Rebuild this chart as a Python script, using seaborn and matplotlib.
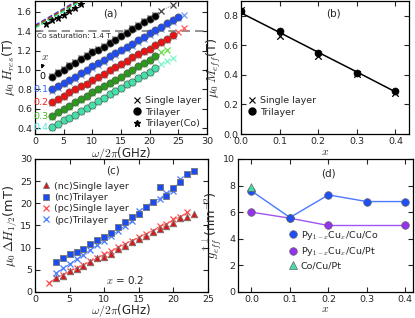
import numpy as np
import pandas as pd
import matplotlib
matplotlib.use("Agg")
import matplotlib.pyplot as plt
import seaborn as sns
from matplotlib.lines import Line2D

# ---------------- data: panel (a) ----------------
f_tri_0 = list(range(3, 22))
h_tri_0 = [0.93, 0.97, 1.00, 1.04, 1.07, 1.11, 1.14, 1.18, 1.21, 1.24, 1.28, 1.31, 1.35, 1.38, 1.42, 1.45, 1.49, 1.52, 1.56]
f_tri_1 = list(range(3, 26))
h_tri_1 = [0.80, 0.83, 0.87, 0.90, 0.93, 0.97, 1.00, 1.04, 1.07, 1.10, 1.14, 1.17, 1.21, 1.24, 1.27, 1.31, 1.34, 1.38, 1.41, 1.44, 1.48, 1.51, 1.55]
f_tri_2 = list(range(3, 25))
h_tri_2 = [0.67, 0.70, 0.73, 0.77, 0.80, 0.83, 0.86, 0.90, 0.93, 0.96, 1.00, 1.03, 1.06, 1.09, 1.13, 1.16, 1.19, 1.22, 1.26, 1.29, 1.32, 1.36]
f_tri_3 = list(range(3, 22))
h_tri_3 = [0.53, 0.57, 0.60, 0.63, 0.67, 0.70, 0.73, 0.77, 0.80, 0.83, 0.87, 0.90, 0.93, 0.97, 1.00, 1.04, 1.07, 1.10, 1.14]
f_tri_4 = list(range(3, 22))
h_tri_4 = [0.41, 0.44, 0.48, 0.51, 0.54, 0.58, 0.61, 0.64, 0.68, 0.71, 0.75, 0.78, 0.81, 0.85, 0.88, 0.92, 0.95, 0.98, 1.02]

f_sl_0 = list(range(3, 23)) + [24]
h_sl_0 = [0.94, 0.98, 1.01, 1.05, 1.08, 1.12, 1.15, 1.19, 1.22, 1.25, 1.29, 1.32, 1.36, 1.39, 1.43, 1.46, 1.50, 1.53, 1.57, 1.61, 1.67]
f_sl_1 = list(range(3, 27))
h_sl_1 = [0.78, 0.81, 0.85, 0.88, 0.91, 0.95, 0.98, 1.02, 1.05, 1.08, 1.12, 1.15, 1.19, 1.22, 1.25, 1.29, 1.32, 1.36, 1.39, 1.42, 1.46, 1.49, 1.53, 1.57]
f_sl_2 = list(range(3, 27))
h_sl_2 = [0.66, 0.69, 0.72, 0.76, 0.79, 0.82, 0.85, 0.89, 0.92, 0.95, 0.99, 1.02, 1.05, 1.08, 1.12, 1.15, 1.18, 1.21, 1.25, 1.28, 1.31, 1.35, 1.39, 1.43]
f_sl_3 = list(range(3, 24))
h_sl_3 = [0.52, 0.56, 0.59, 0.62, 0.66, 0.69, 0.72, 0.76, 0.79, 0.82, 0.86, 0.89, 0.92, 0.96, 0.99, 1.03, 1.06, 1.09, 1.13, 1.18, 1.21]
f_sl_4 = list(range(3, 25))
h_sl_4 = [0.40, 0.43, 0.47, 0.50, 0.53, 0.57, 0.60, 0.63, 0.67, 0.70, 0.74, 0.77, 0.80, 0.84, 0.87, 0.91, 0.94, 0.97, 1.01, 1.06, 1.09, 1.12]

f_co = [2, 3, 4, 5, 6, 7, 8]
h_co = [1.47, 1.51, 1.54, 1.57, 1.61, 1.64, 1.68]
f_co_fit = [0, 9]
h_co_fit_1 = [1.46, 1.77]
h_co_fit_2 = [1.45, 1.76]
h_co_fit_3 = [1.44, 1.75]
h_co_fit_4 = [1.43, 1.74]

x_labels_a = ["0", "0.1", "0.2", "0.3", "0.4"]

# ---------------- data: panel (b) ----------------
x_b = [0.0, 0.1, 0.2, 0.3, 0.4]
m_single = [0.84, 0.66, 0.53, 0.405, 0.28]
m_tri = [0.83, 0.70, 0.545, 0.415, 0.29]
m_fit = [0.82, 0.687, 0.553, 0.42, 0.285]

# ---------------- data: panel (c) ----------------
f_nc = list(range(3, 24))
dh_nc_single = [3.1, 3.7, 4.7, 5.1, 5.9, 6.8, 7.7, 8.0, 8.6, 9.8, 10.4, 11.3, 11.9, 12.7, 13.5, 14.3, 14.8, 15.5, 16.8, 16.9, 17.5]
dh_nc_tri = [6.8, 7.6, 8.6, 9.1, 9.7, 10.8, 11.8, 12.3, 13.4, 14.6, 15.7, 16.9, 17.5, 19.2, 20.3, 23.7, 21.7, 23.4, 24.7, 26.6, 27.4]
f_pc_single = list(range(2, 23))
dh_pc_single = [2.1, 3.1, 3.9, 4.7, 5.4, 6.1, 6.9, 7.7, 8.5, 9.2, 10.1, 10.8, 11.6, 12.3, 13.1, 13.8, 14.8, 15.3, 16.4, 16.9, 18.0]
f_pc_tri = list(range(3, 22))
dh_pc_tri = [4.2, 5.3, 6.3, 7.4, 8.4, 9.5, 10.6, 11.6, 12.7, 13.8, 14.9, 16.0, 18.3, 19.2, 20.4, 21.0, 22.4, 22.7, 25.5]

# ---------------- data: panel (d) ----------------
x_co = [0.0, 0.1, 0.2, 0.3, 0.4]
g_co = [7.6, 5.6, 7.3, 6.8, 6.8]
x_pt = [0.0, 0.1, 0.2, 0.4]
g_pt = [6.0, 5.55, 5.0, 5.0]
x_copt = [0.0]
g_copt = [7.9]

# ---------------- style ----------------
sns.set_style("ticks", {"xtick.direction": "in", "ytick.direction": "in"})
plt.rcParams["font.family"] = ["DejaVu Sans"]
plt.rcParams["mathtext.fontset"] = "cm"
FS = 6.8
XLFS = 8.5
YLFS = 9.3

fig = plt.figure(figsize=(4.15, 3.18), dpi=100)
ax_a = fig.add_axes([0.0843, 0.5786, 0.4145, 0.4182])
ax_b = fig.add_axes([0.5807, 0.5786, 0.4048, 0.4182])
ax_c = fig.add_axes([0.0843, 0.0818, 0.4169, 0.4182])
ax_d = fig.add_axes([0.5735, 0.0818, 0.4217, 0.4182])

for ax in (ax_a, ax_b, ax_c, ax_d):
    ax.tick_params(direction="in", top=True, right=True, labelsize=FS,
                   length=3.5, width=0.8, pad=2)
    for s in ax.spines.values():
        s.set_linewidth(0.9)
        s.set_color("black")

# ---------------- panel (a) ----------------
dark = ["black", "#1f4cf5", "#ee1111", "#2a9a1a", "#44e0a8"]
light = ["#444444", "#6f9cff", "#ff5a5a", "#66dd44", "#7cf5c8"]
lblcol = ["black", "#3366ff", "#ee2222", "#44bb22", "#55e8e0"]
tri_f = [f_tri_0, f_tri_1, f_tri_2, f_tri_3, f_tri_4]
tri_h = [h_tri_0, h_tri_1, h_tri_2, h_tri_3, h_tri_4]
sl_f = [f_sl_0, f_sl_1, f_sl_2, f_sl_3, f_sl_4]
sl_h = [h_sl_0, h_sl_1, h_sl_2, h_sl_3, h_sl_4]
fit_h = [None, h_co_fit_1, h_co_fit_2, h_co_fit_3, h_co_fit_4]

ax_a.axhline(1.4, ls=(0, (5, 3)), color="0.5", lw=1.2, zorder=1)
for i in range(5):
    if fit_h[i] is not None:
        sns.lineplot(x=f_co_fit, y=fit_h[i], ax=ax_a, color=dark[i], lw=1.0,
                     linestyle="--", estimator=None, zorder=2)
    sns.lineplot(x=sl_f[i], y=sl_h[i], ax=ax_a, color=light[i], lw=0.6,
                 linestyle=":", marker="x", markersize=4.5, markeredgewidth=0.9,
                 markeredgecolor=light[i], estimator=None, zorder=3)
    sns.lineplot(x=tri_f[i], y=tri_h[i], ax=ax_a, color=dark[i], lw=0.6,
                 marker="o", markersize=5.2, markeredgecolor="0.35",
                 markeredgewidth=0.5, estimator=None, zorder=4)
sns.lineplot(x=f_co, y=h_co, ax=ax_a, color="black", lw=1.0, linestyle="--",
             marker="*", markersize=5, markeredgecolor="black", estimator=None, zorder=5)

ax_a.set_xlim(0, 30)
ax_a.set_ylim(0.34, 1.71)
ax_a.set_xticks([0, 5, 10, 15, 20, 25, 30])
ax_a.set_yticks([0.4, 0.6, 0.8, 1.0, 1.2, 1.4, 1.6])
ax_a.set_xlabel(r"$\omega/2\pi$(GHz)", fontsize=XLFS, labelpad=-0.5)
ax_a.set_ylabel(r"$\mu_0\,H_{res}$(T)", fontsize=YLFS, labelpad=0)
ax_a.text(13.1, 1.58, "(a)", fontsize=7.5, ha="center", va="center")
ax_a.text(0.4, 1.35, "Co saturation: 1.4 T", fontsize=5.4, ha="left", va="center")
lab_y = [0.93, 0.795, 0.66, 0.525, 0.41]
for i in range(5):
    ax_a.text(2.35 if i else 1.85, lab_y[i], x_labels_a[i], fontsize=FS,
              color=lblcol[i], ha="right", va="center")
ax_a.text(1.8, 1.13, r"$x$", fontsize=8, ha="center", va="center")
ax_a.annotate("", xy=(0.95, 0.985), xytext=(1.55, 1.08),
              arrowprops=dict(arrowstyle="-|>", lw=0.8, color="black",
                              mutation_scale=5))
hA = [Line2D([], [], ls="none", marker="x", color="black", markersize=4.5, mew=0.8),
      Line2D([], [], ls="none", marker="o", color="black", markersize=5),
      Line2D([], [], ls="none", marker="*", color="black", markersize=5)]
ax_a.legend(hA, ["Single layer", "Trilayer", "Trilayer(Co)"], loc="lower right",
            fontsize=FS, frameon=False, handletextpad=0.3, handlelength=1.0,
            borderaxespad=0.25, labelspacing=0.25)

# ---------------- panel (b) ----------------
sns.lineplot(x=x_b, y=m_fit, ax=ax_b, color="black", lw=1.1, estimator=None)
sns.scatterplot(x=x_b, y=m_single, ax=ax_b, marker="x", color="black", s=22,
                linewidth=0.9, zorder=3)
sns.scatterplot(x=x_b, y=m_tri, ax=ax_b, marker="o", color="black", s=26,
                edgecolor="black", zorder=4)
ax_b.set_xlim(0, 0.435)
ax_b.set_ylim(0, 0.9)
ax_b.set_xticks([0.0, 0.1, 0.2, 0.3, 0.4])
ax_b.set_yticks([0.0, 0.2, 0.4, 0.6, 0.8])
ax_b.set_xlabel(r"$x$", fontsize=XLFS, labelpad=-0.5)
ax_b.set_ylabel(r"$\mu_0\,M_{eff}$(T)", fontsize=YLFS, labelpad=0)
ax_b.text(0.24, 0.815, "(b)", fontsize=7.5, ha="center", va="center")
hB = [Line2D([], [], ls="none", marker="x", color="black", markersize=4.5, mew=0.8),
      Line2D([], [], ls="none", marker="o", color="black", markersize=5)]
ax_b.legend(hB, ["Single layer", "Trilayer"], loc="lower left", fontsize=FS,
            frameon=False, handletextpad=0.3, handlelength=1.0,
            borderaxespad=0.3, labelspacing=0.25, bbox_to_anchor=(0.0, 0.08))

# ---------------- panel (c) ----------------
c_red, c_blue = "#dd1515", "#1a4cf0"
c_red_l, c_blue_l = "#ff4a4a", "#4a7cff"
sns.lineplot(x=f_pc_single, y=dh_pc_single, ax=ax_c, color=c_red_l, lw=0.6,
             marker="x", markersize=4.5, markeredgewidth=0.9,
             markeredgecolor=c_red_l, estimator=None, zorder=2)
sns.lineplot(x=f_pc_tri, y=dh_pc_tri, ax=ax_c, color=c_blue_l, lw=0.6,
             marker="x", markersize=4.5, markeredgewidth=0.9,
             markeredgecolor=c_blue_l, estimator=None, zorder=2)
sns.scatterplot(x=f_nc, y=dh_nc_single, ax=ax_c, marker="^", color=c_red, s=22,
                edgecolor="0.45", linewidth=0.6, zorder=3)
sns.scatterplot(x=f_nc, y=dh_nc_tri, ax=ax_c, marker="s", color=c_blue, s=22,
                edgecolor="0.45", linewidth=0.6, zorder=3)
ax_c.set_xlim(0, 25)
ax_c.set_ylim(0, 30)
ax_c.set_xticks([0, 5, 10, 15, 20, 25])
ax_c.set_yticks([0, 5, 10, 15, 20, 25, 30])
ax_c.set_xlabel(r"$\omega/2\pi$(GHz)", fontsize=XLFS, labelpad=-1)
ax_c.set_ylabel(r"$\mu_0\,\Delta H_{1/2}$(mT)", fontsize=YLFS, labelpad=0)
ax_c.text(11.3, 27.3, "(c)", fontsize=7.5, ha="center", va="center")
ax_c.text(13.0, 2.8, r"$x$ = 0.2", fontsize=7.5, ha="center", va="center")
hC = [Line2D([], [], ls="none", marker="^", color=c_red, mec="0.45", mew=0.6, markersize=5),
      Line2D([], [], ls="none", marker="s", color=c_blue, mec="0.45", mew=0.6, markersize=5),
      Line2D([], [], ls="none", marker="x", color=c_red_l, markersize=4.5, mew=0.9),
      Line2D([], [], ls="none", marker="x", color=c_blue_l, markersize=4.5, mew=0.9)]
ax_c.legend(hC, ["(nc)Single layer", "(nc)Trilayer", "(pc)Single layer", "(pc)Trilayer"],
            loc="upper left", fontsize=FS, frameon=False, handletextpad=0.3,
            handlelength=1.0, borderaxespad=0.3, labelspacing=0.25,
            bbox_to_anchor=(0.0, 0.88))

# ---------------- panel (d) ----------------
c_co, c_co_l = "#1e50f5", "#4a78ff"
c_pt, c_pt_l = "#9433ee", "#a055f0"
c_tri = "#44ddaa"
sns.lineplot(x=x_co, y=g_co, ax=ax_d, color=c_co_l, lw=1.0, marker="o",
             markersize=5.5, markerfacecolor=c_co, markeredgecolor="0.4",
             markeredgewidth=0.5, estimator=None, zorder=3)
sns.lineplot(x=x_pt, y=g_pt, ax=ax_d, color=c_pt_l, lw=1.0, marker="o",
             markersize=5.5, markerfacecolor=c_pt, markeredgecolor="0.4",
             markeredgewidth=0.5, estimator=None, zorder=2)
sns.scatterplot(x=x_copt, y=g_copt, ax=ax_d, marker="^", color=c_tri, s=30,
                edgecolor="0.4", linewidth=0.5, zorder=4)
ax_d.set_xlim(-0.035, 0.42)
ax_d.set_ylim(0, 10)
ax_d.set_xticks([0.0, 0.1, 0.2, 0.3, 0.4])
ax_d.set_yticks([0, 2, 4, 6, 8, 10])
ax_d.set_xlabel(r"$x$", fontsize=XLFS, labelpad=-1)
ax_d.set_ylabel(r"$g_{eff}^{\uparrow\downarrow}$(nm$^{-2}$)", fontsize=YLFS, labelpad=0)
ax_d.text(0.2, 8.9, "(d)", fontsize=7.5, ha="center", va="center")
hD = [Line2D([], [], ls="none", marker="o", color=c_co, mec="0.4", mew=0.5, markersize=5.5),
      Line2D([], [], ls="none", marker="o", color=c_pt, mec="0.4", mew=0.5, markersize=5.5),
      Line2D([], [], ls="none", marker="^", color=c_tri, mec="0.4", mew=0.5, markersize=5.5)]
ax_d.legend(hD, [r"Py$_{1-x}$Cu$_x$/Cu/Co", r"Py$_{1-x}$Cu$_x$/Cu/Pt", "Co/Cu/Pt"],
            loc="lower left", fontsize=FS, frameon=False, handletextpad=0.3,
            handlelength=1.0, labelspacing=0.35, bbox_to_anchor=(0.24, 0.1))

fig.savefig("out.png", dpi=100)
